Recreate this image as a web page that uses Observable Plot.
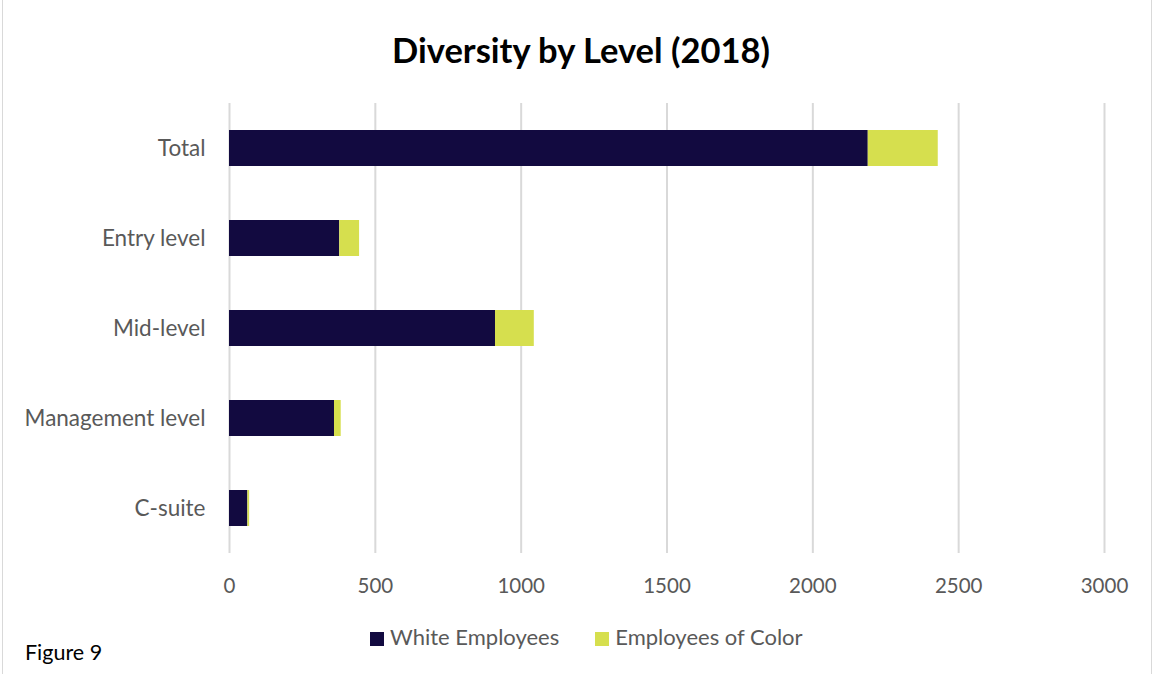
<!DOCTYPE html>
<html>
<head>
<meta charset="utf-8">
<script src="https://cdn.jsdelivr.net/npm/d3@7"></script>
<script src="https://cdn.jsdelivr.net/npm/@observablehq/plot@0.6"></script>
<style>
  html, body { margin: 0; padding: 0; background: #fff; }
  #wrap { position: relative; width: 1154px; height: 674px; overflow: hidden; font-family: Lato, "Open Sans", sans-serif; }
  #wrap::before, #wrap::after { content: ""; position: absolute; top: 0; bottom: 0; width: 1px; background: #d9d9d9; }
  #wrap::before { left: 2px; }
  #wrap::after { right: 2px; }
  #title { position: absolute; top: 29px; left: 0; width: 1162px; text-align: center; font-size: 34.5px; font-weight: bold; color: #000; }
  #chart { position: absolute; top: 0; left: 0; }
  #legend { position: absolute; top: 623px; left: 370px; font-size: 22px; color: #595959; display: flex; gap: 36px; }
  #legend span.sw { display: inline-block; width: 14px; height: 14px; margin-right: 6px; vertical-align: -1px; }
  #caption { position: absolute; top: 639px; left: 25px; font-size: 21.5px; color: #000; }
</style>
</head>
<body>
<div id="wrap">
  <div id="chart"></div>
  <div id="title">Diversity by Level (2018)</div>
  <div id="legend"></div>
  <div id="caption">Figure 9</div>
</div>
<script>
const levels = ["Total", "Entry level", "Mid-level", "Management level", "C-suite"];
const whiteEmployees = [2190, 378, 912, 360, 63];
const employeesOfColor = [240, 68, 133, 23, 6];
const seriesNames = ["White Employees", "Employees of Color"];
const seriesColors = ["#120a40", "#d6df4e"];
const xTicks = [0, 500, 1000, 1500, 2000, 2500, 3000];

const rows = [];
levels.forEach((lv, i) => {
  rows.push({level: lv, series: seriesNames[0], value: whiteEmployees[i]});
  rows.push({level: lv, series: seriesNames[1], value: employeesOfColor[i]});
});

const chart = Plot.plot({
  width: 1154,
  height: 600,
  marginTop: 103,
  marginBottom: 47,
  marginLeft: 229,
  marginRight: 50,
  style: {fontFamily: "Lato, 'Open Sans', sans-serif", fontSize: "20px", color: "#595959", background: "transparent"},
  x: {domain: [0, 3000], ticks: xTicks, tickFormat: d => String(d), label: null},
  y: {domain: levels, paddingInner: 0.6, paddingOuter: 0.3, label: null},
  color: {domain: seriesNames, range: seriesColors},
  marks: [
    Plot.gridX(xTicks, {stroke: "#d9d9d9", strokeOpacity: 1, strokeWidth: 2}),
    Plot.barX(rows, Plot.stackX({y: "level", x: "value", fill: "series", order: seriesNames})),
    Plot.axisX({ticks: xTicks, tickSize: 0, tickPadding: 25, fontSize: 20.5, tickFormat: d => String(d), label: null}),
    Plot.axisY({tickSize: 0, tickPadding: 24, fontSize: 22.5, label: null})
  ]
});
document.getElementById("chart").appendChild(chart);

const legend = document.getElementById("legend");
seriesNames.forEach((name, i) => {
  const item = document.createElement("div");
  const sw = document.createElement("span");
  sw.className = "sw";
  sw.style.background = seriesColors[i];
  item.appendChild(sw);
  item.appendChild(document.createTextNode(name));
  legend.appendChild(item);
});
</script>
</body>
</html>
